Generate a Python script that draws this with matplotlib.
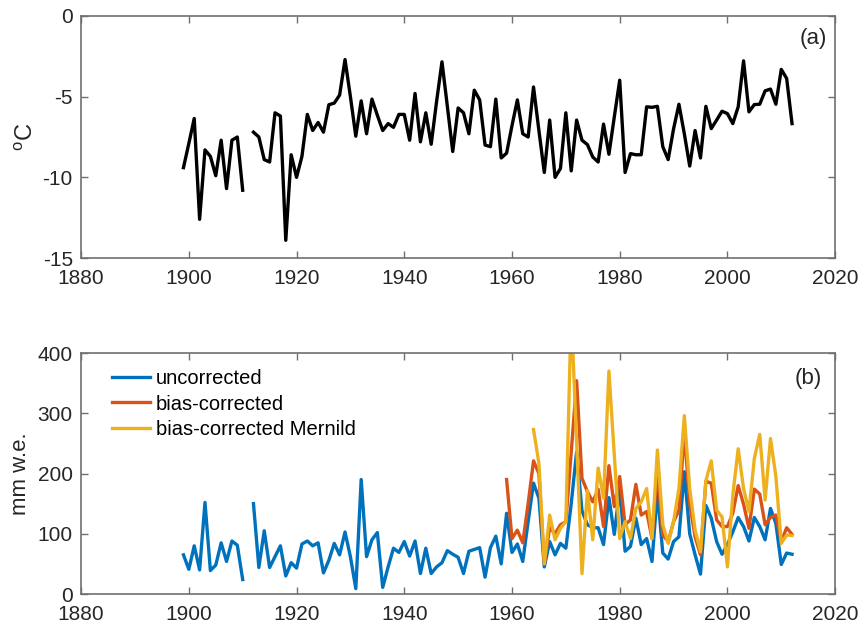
import numpy as np
import matplotlib
matplotlib.use("Agg")
import matplotlib.pyplot as plt

plt.rcParams['font.family'] = ['Liberation Sans', 'DejaVu Sans']
plt.rcParams['mathtext.fontset'] = 'custom'
plt.rcParams['mathtext.rm'] = 'Liberation Sans'
plt.rcParams['axes.unicode_minus'] = False

# annual temperature (a), 1899-2012, gap in 1911
temp_years = np.arange(1899, 2013)
temp = [-9.4, -7.9, -6.35, -12.6, -8.3, -8.7, -9.9, -7.7, -10.7, -7.7,
        -7.5, -10.8, np.nan, -7.2, -7.5, -8.9, -9.05, -6.0, -6.2, -13.9,
        -8.6, -10.0, -8.7, -6.1, -7.1, -6.6, -7.2, -5.5, -5.4, -4.9,
        -2.7, -5.0, -7.45, -5.26, -7.3, -5.15, -6.15, -7.1, -6.67, -6.9,
        -6.1, -6.1, -7.7, -4.8, -7.8, -6.0, -7.95, -5.3, -2.84, -5.6,
        -8.4, -5.7, -6.0, -7.3, -4.6, -5.2, -8.0, -8.1, -5.15, -8.8,
        -8.5, -6.8, -5.2, -7.3, -7.5, -4.4, -7.1, -9.7, -6.45, -10.0,
        -9.45, -6.0, -9.6, -6.45, -7.7, -7.97, -8.74, -9.05, -6.7, -8.57,
        -6.25, -3.98, -9.7, -8.53, -8.6, -8.6, -5.63, -5.66, -5.6, -8.1,
        -8.9, -7.0, -5.47, -7.3, -9.3, -7.1, -8.8, -5.6, -6.98, -6.45,
        -5.9, -6.05, -6.67, -5.63, -2.78, -5.94, -5.49, -5.47, -4.64, -4.53,
        -5.47, -3.31, -3.87, -6.67]

# precipitation (b)
unc_years = np.arange(1899, 2013)
uncorrected = [65, 41, 80, 40, 152, 39, 48, 85, 54, 88,
               81, 24, np.nan, 150, 44, 105, 44, 62, 80, 30,
               52, 43, 83, 88, 80, 85, 35, 56, 84, 65,
               103, 62, 9, 190, 62, 90, 102, 11, 45, 76,
               69, 87, 63, 88, 34, 76, 34, 45, 52, 72,
               66, 61, 34, 71, 74, 77, 28, 77, 96, 50,
               134, 69, 83, 54, 120, 184, 159, 45, 87, 65,
               84, 76, 150, 236, 138, 115, 110, 110, 82, 160,
               99, 175, 71, 79, 126, 82, 92, 54, 170, 68,
               58, 87, 95, 203, 100, 65, 33, 147, 126, 87,
               66, 82, 103, 127, 112, 88, 127, 112, 90, 142,
               117, 49, 68, 66]

bc_years = np.arange(1959, 2013)
bias_corrected = [190, 92, 106, 85, 150, 221, 200, 50, 110, 100,
                  115, 120, 235, 354, 192, 170, 153, 174, 112, 213,
                  145, 195, 115, 123, 182, 131, 137, 92, 209, 98,
                  87, 120, 139, 269, 150, 95, 65, 187, 184, 123,
                  112, 112, 134, 180, 149, 109, 174, 166, 115, 127,
                  131, 87, 110, 99]

mern_years = np.arange(1964, 2013)
mernild = [273, 217, 50, 131, 90, 109, 120, 470, 252, 34,
           172, 90, 209, 159, 370, 230, 92, 120, 92, 142,
           153, 175, 92, 239, 115, 84, 120, 175, 296, 175,
           106, 70, 188, 221, 139, 128, 45, 164, 241, 175,
           137, 225, 265, 156, 258, 195, 84, 98, 97]

fig = plt.figure(figsize=(8.63, 6.27), dpi=100)
ax1 = fig.add_axes([0.094, 0.5885, 0.8737, 0.386])
ax2 = fig.add_axes([0.094, 0.0526, 0.8737, 0.3844])

ax1.plot(temp_years, temp, color='black', lw=2.4)
ax1.set_xlim(1880, 2020)
ax1.set_ylim(-15, 0)
ax1.set_yticks([-15, -10, -5, 0])
ax1.set_ylabel('$^{\\mathrm{o}}$C', fontsize=17, labelpad=3)
ax1.text(0.989, 0.905, '(a)', transform=ax1.transAxes, ha='right', va='center',
         fontsize=16, color='#262626')

ax2.plot(unc_years, uncorrected, color='#0072BD', lw=2.4, label='uncorrected')
ax2.plot(bc_years, bias_corrected, color='#D95319', lw=2.4, label='bias-corrected')
ax2.plot(mern_years, mernild, color='#EDB120', lw=2.4, label='bias-corrected Mernild')
ax2.set_xlim(1880, 2020)
ax2.set_ylim(0, 400)
ax2.set_yticks([0, 100, 200, 300, 400])
ax2.set_ylabel('mm w.e.', fontsize=16, labelpad=5)
ax2.text(0.982, 0.896, '(b)', transform=ax2.transAxes, ha='right', va='center',
         fontsize=16, color='#262626')
ax2.legend(loc='upper left', bbox_to_anchor=(0.03, 0.965), frameon=False,
           fontsize=14.5, handlelength=1.9, handletextpad=0.3, labelspacing=0.3,
           borderaxespad=0, borderpad=0.4)

for ax in (ax1, ax2):
    ax.set_xticks(np.arange(1880, 2021, 20))
    ax.tick_params(direction='in', top=True, right=True, length=5, width=1,
                   color='#707070', labelcolor='#262626', labelsize=15)
    ax.tick_params(axis='x', pad=8)
    ax.tick_params(axis='y', pad=6)
    for s in ax.spines.values():
        s.set_color('#707070')
        s.set_linewidth(1.2)
    ax.yaxis.label.set_color('#262626')

fig.savefig('out.png', dpi=100)
